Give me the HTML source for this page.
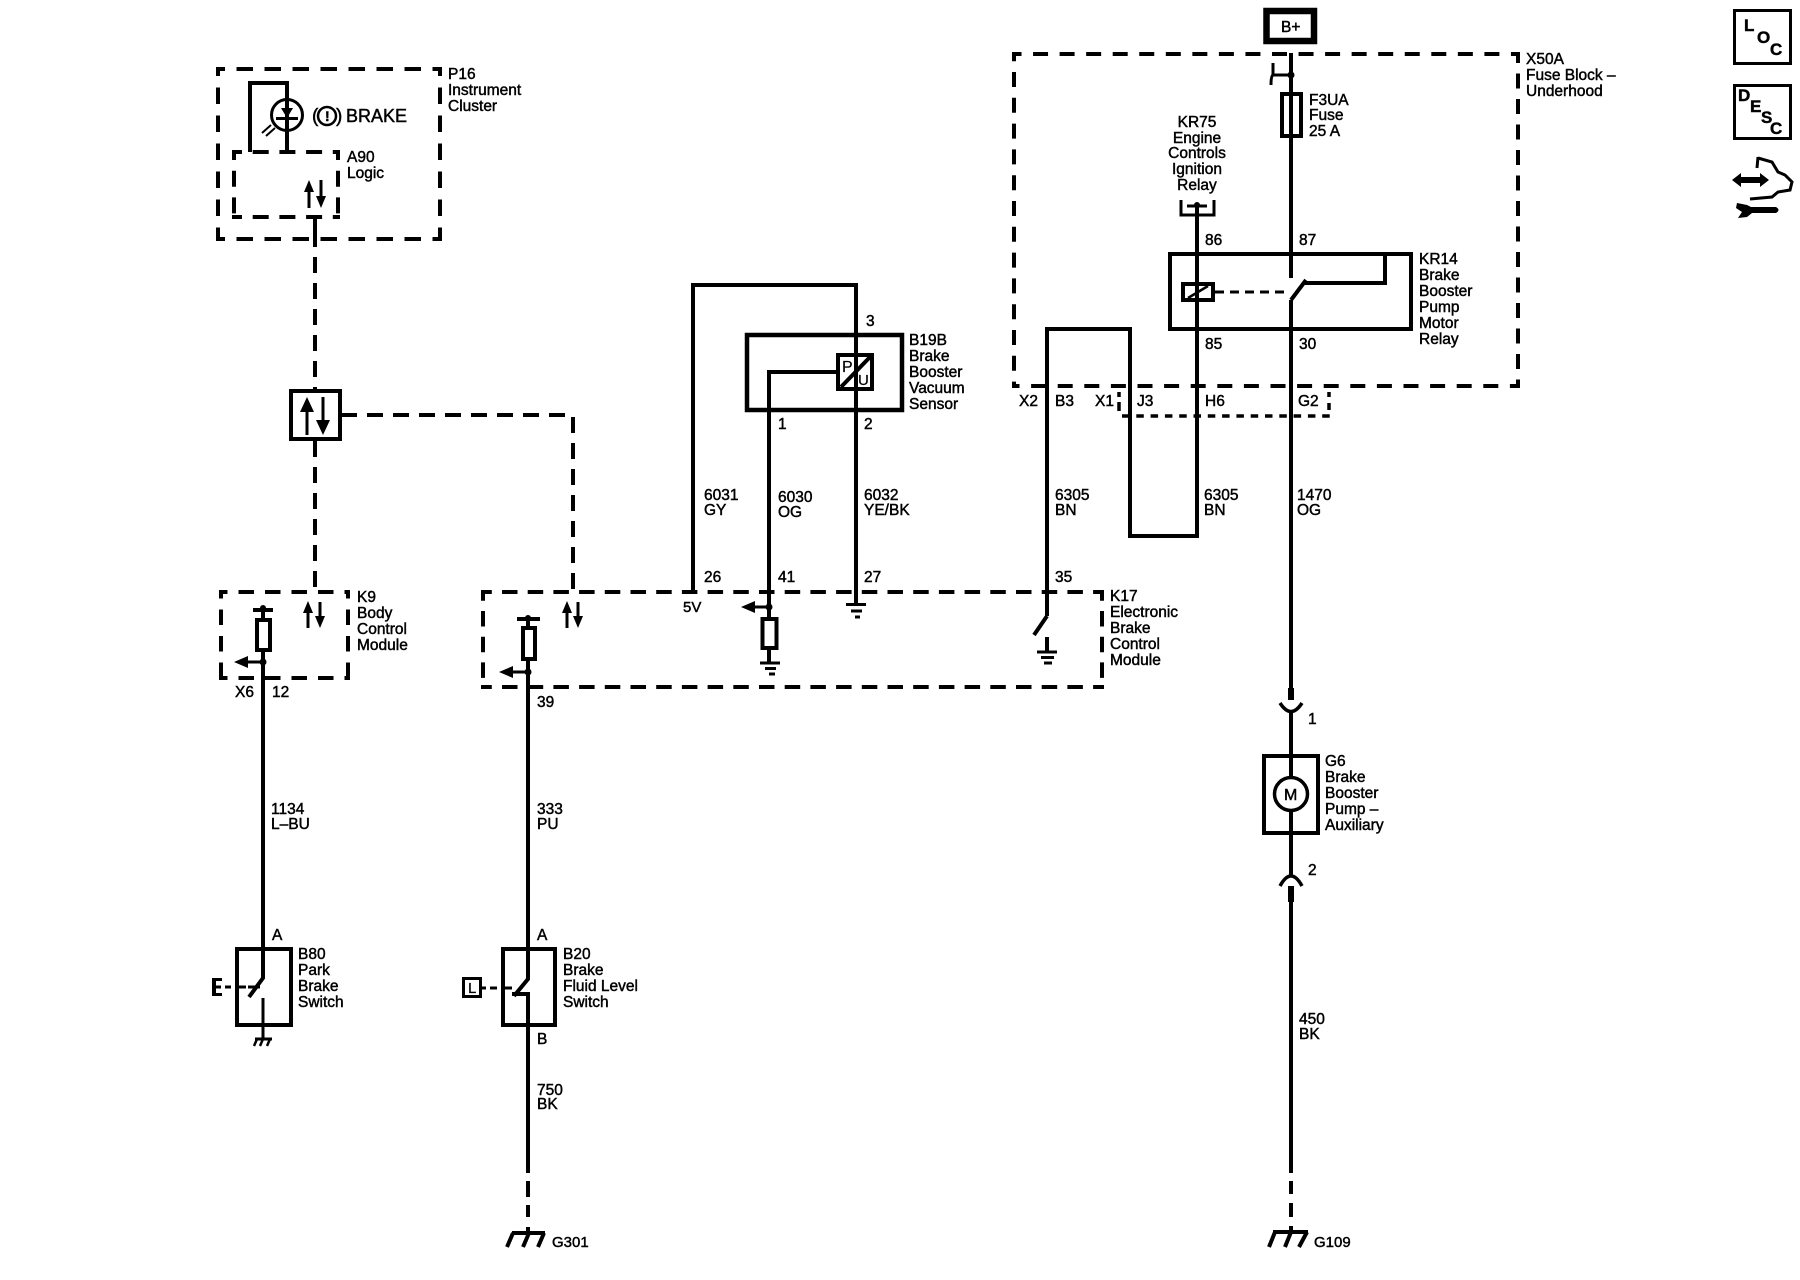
<!DOCTYPE html>
<html><head><meta charset="utf-8"><title>Brake Booster Wiring</title>
<style>
html,body{margin:0;padding:0;background:#fff}
svg{display:block}
text{font-family:"Liberation Sans",sans-serif;font-size:15.5px;fill:#000;stroke:#000;stroke-width:.45px}
.w{fill:none;stroke:#000;stroke-width:4;stroke-linejoin:miter}
.t{fill:none;stroke:#000;stroke-width:3}
.d{fill:none;stroke:#000;stroke-width:4;stroke-dasharray:16 10;stroke-dashoffset:9}
.f{fill:#000;stroke:none}
.b{font-weight:bold;font-size:17px}
</style></head><body>
<svg width="1800" height="1280" viewBox="0 0 1800 1280" xmlns="http://www.w3.org/2000/svg">
<rect width="1800" height="1280" fill="#fff"/>

<!-- P16 -->
<g class="d" style="stroke-dasharray:16.5 11.500;stroke-dashoffset:7.500">
<path d="M216 69H441"/><path d="M216 239H441"/><path d="M218 67V241"/><path d="M440 67V241"/>
</g>
<g class="d" style="stroke-dasharray:16 10.700;stroke-dashoffset:6">
<path d="M232 152H340"/><path d="M232 217H340"/><path d="M234 150V219"/><path d="M338 150V219"/>
</g>
<path class="w" d="M250 152V83H287V152"/>
<circle cx="287" cy="115" r="15.500" class="t" fill="#fff"/>
<path class="f" d="M281 108H293L287 118Z"/><path class="t" d="M276 118.500H298"/>
<path class="t" style="stroke-width:2" d="M262 133L271 125M266 136L275 128"/>
<circle cx="327" cy="116" r="9" class="t" style="stroke-width:2.500"/>
<text x="312" y="122" style="font-size:19px">(</text><text x="325" y="121" style="font-size:14px;font-weight:bold">!</text><text x="336" y="122" style="font-size:19px">)</text>
<text x="346" y="122" style="font-size:18px">BRAKE</text>
<!-- A90 arrows -->
<path class="t" d="M309 208V188M321 180V198"/>
<path class="f" d="M309 180L304 192H314ZM321 208L316 196H326Z"/>
<path class="w" d="M315 218V246"/>
<path class="d" d="M315 246V392" style="stroke-dashoffset:-11"/>

<!-- splice box -->
<rect x="291" y="391" width="49" height="48" class="w" fill="#fff"/>
<path class="t" d="M307 435V405M323 397V425"/>
<path class="f" d="M307 397L300 412H314ZM323 435L316 420H330Z"/>
<path class="d" d="M315 439V592" style="stroke-dashoffset:-2"/>
<path class="d" d="M340 415H573V592" style="stroke-dashoffset:-1"/>

<!-- K9 -->
<g class="d" style="stroke-dasharray:15.500 11;stroke-dashoffset:7">
<path d="M219 592H350"/><path d="M219 678H350"/><path d="M221 590V680"/><path d="M348 590V680"/>
</g>
<path class="t" d="M308 628V610M320 602V618"/>
<path class="f" d="M308 601L303 613H313ZM320 628L315 616H325Z"/>
<path class="w" d="M253 610H273"/><path class="w" d="M263 607V620M263 650V949"/>
<circle cx="263" cy="608" r="3" class="f"/>
<rect x="257" y="620" width="13" height="30" class="w" fill="#fff"/>
<circle cx="263" cy="662" r="3.500" class="f"/>
<path class="t" d="M246 662H263"/><path class="f" d="M234 662L248 656V668Z"/>
<text x="235" y="697">X6</text><text x="272" y="697">12</text>
<text x="357" y="602">K9</text><text x="357" y="618">Body</text><text x="357" y="634">Control</text><text x="357" y="650">Module</text>

<!-- K17 -->
<g class="d" style="stroke-dasharray:15.500 10.200;stroke-dashoffset:4.700">
<path d="M481 592H1104"/><path d="M481 687H1104"/><path d="M483 590V689"/><path d="M1102 590V689"/>
</g>
<path class="t" d="M567 628V610M578 602V618"/>
<path class="f" d="M567 601L562 613H572ZM578 628L573 616H583Z"/>
<path class="w" d="M517 619H540"/><path class="w" d="M528 616V628M528 659V949"/>
<circle cx="528" cy="618" r="3" class="f"/>
<rect x="523" y="628" width="12" height="31" class="w" fill="#fff"/>
<circle cx="528" cy="672" r="3.500" class="f"/>
<path class="t" d="M510 672H528"/><path class="f" d="M499 672L513 666V678Z"/>
<text x="537" y="707">39</text>
<text x="683" y="612" style="font-size:15px">5V</text>

<!-- sensor wires -->
<path class="w" d="M693 592V285H856V604"/>
<rect x="747" y="335" width="155" height="75" class="w" style="stroke-width:4.500"/>
<path class="w" d="M838 372H769V619"/>
<rect x="838" y="355" width="34" height="34" class="w" fill="#fff"/>
<path class="w" d="M841 387L870 357"/>
<text x="842" y="372" style="font-size:16px;stroke-width:.2px">P</text><text x="858" y="385" style="font-size:15px;stroke-width:.2px">U</text>
<path class="w" d="M769 648V663"/>
<rect x="762.500" y="619" width="14" height="29" class="w" fill="#fff"/>
<circle cx="769" cy="607" r="3.500" class="f"/>
<path class="t" d="M752 607H769"/><path class="f" d="M741 607L755 601V613Z"/>
<path class="t" d="M760 663H780M765 668.500H776M769 674H775"/>
<path class="t" d="M846 604.500H866M851 611H862M855 617H860"/>

<!-- 6305 loop -->
<path class="w" d="M1047 616V329H1130V536H1197V205"/>
<path class="w" d="M1047 616L1034 635"/>
<path class="w" d="M1047 637V652"/>
<path class="t" d="M1037 652H1057M1041 657.500H1054M1044 663H1052"/>

<!-- X50A -->
<g class="d" style="stroke-dasharray:15 11.550;stroke-dashoffset:5.500">
<path d="M1012 54H1520"/>
</g>
<path class="d" style="stroke-dasharray:15 11.600;stroke-dashoffset:7.500" d="M1012 386H1520"/>
<path class="d" style="stroke-dasharray:15 10.800;stroke-dashoffset:5.800" d="M1014 52V388"/>
<path class="d" style="stroke-dasharray:15 10.500;stroke-dashoffset:4" d="M1518 52V388"/>
<g class="t" style="stroke-width:3.500">
<path d="M1119 392V397M1119 402V411M1329 392V397M1329 403V410"/>
<path d="M1122 416H1331" style="stroke-dasharray:7.500 6.800"/>
</g>
<!-- B+ -->
<rect x="1266.500" y="11" width="47.500" height="30" fill="#fff" stroke="#000" stroke-width="6.500"/>
<text x="1281" y="32">B+</text>
<!-- Main wire -->
<path class="w" d="M1291 53V278"/>
<path class="w" d="M1291 300V700" />
<path class="w" style="stroke-width:3" d="M1273 63V75H1291M1273 75Q1271 76 1271 85"/>
<circle cx="1291" cy="75" r="3.500" class="f"/>
<rect x="1282" y="94" width="19" height="42" class="w" fill="#fff"/>
<path class="w" d="M1291 93V136" style="stroke-width:3"/>
<!-- KR75 connector -->
<path class="t" d="M1181 200V215H1214V200"/>
<path class="t" d="M1187 206H1207"/><circle cx="1197" cy="205" r="3" class="f"/>
<!-- KR14 -->
<rect x="1170" y="254" width="241" height="75" class="w"/>
<path class="w" d="M1305 283H1385V254"/>
<path class="w" d="M1291 300L1306 280"/>
<rect x="1183" y="284" width="30" height="16" class="w" fill="#fff"/>
<path class="t" d="M1188 298L1208 286" style="stroke-width:2.500"/>
<path class="t" d="M1215 292H1289" style="stroke-dasharray:9 6"/>

<!-- Motor -->
<path class="w" style="stroke-width:6" d="M1291 688V700"/>
<path class="w" d="M1280 703Q1291 720 1302 703" style="stroke-width:3.500"/>
<path class="w" d="M1291 711V756"/>
<rect x="1264" y="756" width="54" height="77" class="w"/>
<path class="w" d="M1291 756V876"/>
<circle cx="1291" cy="794" r="16.500" fill="#fff" stroke="#000" stroke-width="3.500"/>
<text x="1284" y="800" style="font-size:16px">M</text>
<path class="w" d="M1280 886Q1291 866 1302 886" style="stroke-width:3.500"/>
<path class="w" style="stroke-width:6" d="M1291 886V902"/>
<path class="w" d="M1291 902V1173"/>
<path class="w" d="M1291 1181V1194M1291 1203V1217M1291 1226V1233"/>
<path class="w" d="M1273 1232H1308M1275 1232L1269 1247M1291 1232L1285 1247M1307 1232L1299 1247"/>
<text x="1314" y="1247" style="font-size:15px">G109</text>

<!-- B80 -->
<rect x="237" y="949" width="54" height="76" class="w"/>
<path class="w" d="M263 949V978L249 997"/>
<path class="t" d="M263 998V1039"/>
<path class="t" d="M255 1039H272"/><path class="t" style="stroke-width:2.500" d="M257 1039L254 1046M263 1039L260 1046M270 1039L267 1046"/>
<path class="t" d="M225 987H231M239 987H246M248 987H260"/>
<path class="f" d="M212 978H222V981H216V985.500H221V988.500H216V993H222V996H212Z"/>

<!-- B20 -->
<rect x="503" y="949" width="52" height="76" class="w"/>
<path class="w" d="M528 949V979L514 996"/>
<path class="w" d="M512 994H528V1173"/>
<path class="w" d="M528 1181V1197M528 1205V1217M528 1227V1233"/>
<rect x="463.500" y="978.500" width="17" height="18" class="t"/>
<text x="468" y="993" style="font-size:15px;stroke-width:.2px">L</text>
<path class="t" d="M481 988H486M490 988H497M503 988H512"/>
<path class="w" d="M512 1233H545M513 1233L507 1247M529 1233L523 1247M544 1233L538 1247"/>
<text x="552" y="1247" style="font-size:15px">G301</text>

<!-- Labels -->
<text x="448" y="79">P16</text><text x="448" y="95">Instrument</text><text x="448" y="111">Cluster</text>
<text x="347" y="162">A90</text><text x="347" y="178">Logic</text>
<text x="866" y="326">3</text>
<text x="909" y="345">B19B</text><text x="909" y="361">Brake</text><text x="909" y="377">Booster</text><text x="909" y="393">Vacuum</text><text x="909" y="409">Sensor</text>
<text x="778" y="429">1</text><text x="864" y="429">2</text>
<text x="704" y="500">6031</text><text x="704" y="515">GY</text>
<text x="778" y="502">6030</text><text x="778" y="517">OG</text>
<text x="864" y="500">6032</text><text x="864" y="515">YE/BK</text>
<text x="1055" y="500">6305</text><text x="1055" y="515">BN</text>
<text x="1204" y="500">6305</text><text x="1204" y="515">BN</text>
<text x="1297" y="500">1470</text><text x="1297" y="515">OG</text>
<text x="704" y="582">26</text><text x="778" y="582">41</text><text x="864" y="582">27</text><text x="1055" y="582">35</text>
<text x="1110" y="601">K17</text><text x="1110" y="617">Electronic</text><text x="1110" y="633">Brake</text><text x="1110" y="649">Control</text><text x="1110" y="665">Module</text>
<text x="1526" y="64">X50A</text><text x="1526" y="80">Fuse Block –</text><text x="1526" y="96">Underhood</text>
<text x="1309" y="105">F3UA</text><text x="1309" y="120">Fuse</text><text x="1309" y="136">25 A</text>
<g text-anchor="middle"><text x="1197" y="127">KR75</text><text x="1197" y="143">Engine</text><text x="1197" y="158">Controls</text><text x="1197" y="174">Ignition</text><text x="1197" y="190">Relay</text></g>
<text x="1205" y="245">86</text><text x="1299" y="245">87</text><text x="1205" y="349">85</text><text x="1299" y="349">30</text>
<text x="1419" y="264">KR14</text><text x="1419" y="280">Brake</text><text x="1419" y="296">Booster</text><text x="1419" y="312">Pump</text><text x="1419" y="328">Motor</text><text x="1419" y="344">Relay</text>
<text x="1019" y="406">X2</text><text x="1055" y="406">B3</text><text x="1095" y="406">X1</text><text x="1137" y="406">J3</text><text x="1205" y="406">H6</text><text x="1298" y="406">G2</text>
<text x="271" y="814">1134</text><text x="271" y="829">L–BU</text>
<text x="537" y="814">333</text><text x="537" y="829">PU</text>
<text x="272" y="940">A</text><text x="537" y="940">A</text>
<text x="298" y="959">B80</text><text x="298" y="975">Park</text><text x="298" y="991">Brake</text><text x="298" y="1007">Switch</text>
<text x="563" y="959">B20</text><text x="563" y="975">Brake</text><text x="563" y="991">Fluid Level</text><text x="563" y="1007">Switch</text>
<text x="537" y="1044">B</text>
<text x="537" y="1095">750</text><text x="537" y="1109">BK</text>
<text x="1308" y="724">1</text><text x="1308" y="875">2</text>
<text x="1325" y="766">G6</text><text x="1325" y="782">Brake</text><text x="1325" y="798">Booster</text><text x="1325" y="814">Pump –</text><text x="1325" y="830">Auxiliary</text>
<text x="1299" y="1024">450</text><text x="1299" y="1039">BK</text>

<!-- Icons -->
<rect x="1734.500" y="10.500" width="56" height="53" class="t"/>
<text x="1744" y="31" class="b">L</text><text x="1757" y="43" class="b">O</text><text x="1770" y="55" class="b">C</text>
<rect x="1734.500" y="85.500" width="56" height="53" class="t"/>
<text x="1738" y="101" class="b">D</text><text x="1750" y="112" class="b">E</text><text x="1761" y="123" class="b">S</text><text x="1770" y="134" class="b">C</text>
<path class="f" d="M1732 180L1741 173V177H1760V173L1769 180L1760 187V183H1741V187Z"/>
<path class="t" d="M1758 157L1757 168M1758 158L1772 162L1778 172L1785 175L1792 182L1790 190L1778 192L1772 197L1750 199"/>
<path class="f" d="M1737 203L1747 205L1751 207H1776Q1781 210 1776 213H1752L1747 217L1738 218L1742 212L1736 208Z"/>
</svg>
</body></html>
